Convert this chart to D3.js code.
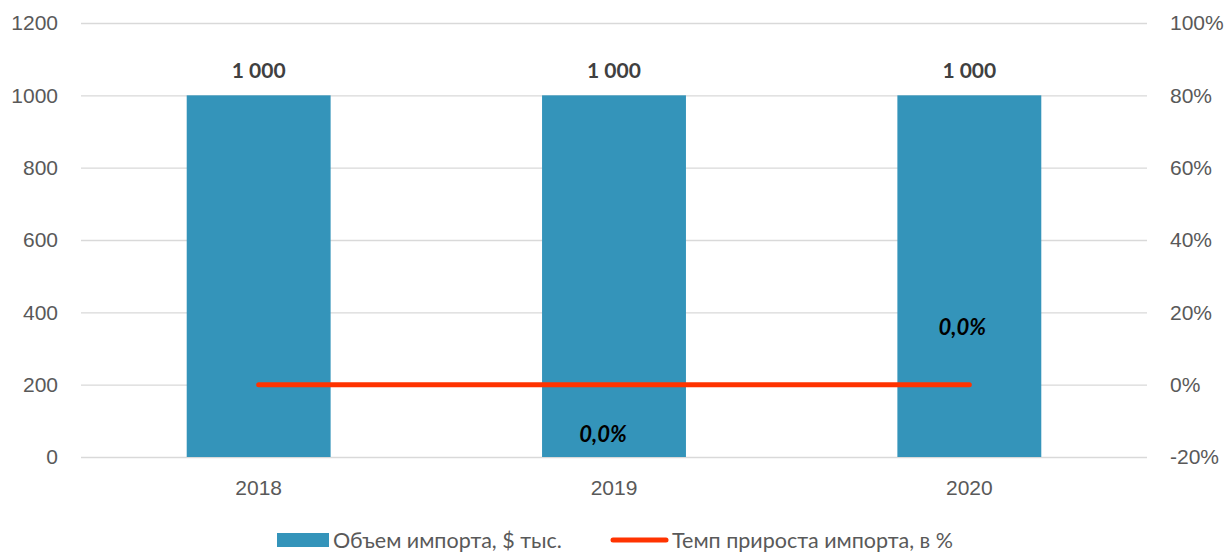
<!DOCTYPE html>
<html>
<head>
<meta charset="utf-8">
<script src="https://cdn.jsdelivr.net/npm/d3@7"></script>
<style>
  body { margin: 0; background: #fff; }
  svg { font-family: Lato, "Open Sans", sans-serif; }
</style>
</head>
<body>
<svg id="chart"></svg>
<script>
// данные
const years = ['2018', '2019', '2020']
const importVolume = [1000, 1000, 1000]
const importGrowth = [0, 0, 0]
const growthLabelPos = [null, 'below', 'above'] // 2018 без подписи

const leftTicks = [0, 200, 400, 600, 800, 1000, 1200]
const rightTicks = [-0.2, 0, 0.2, 0.4, 0.6, 0.8, 1.0]

const seriesNames = ['Объем импорта, $ тыс.', 'Темп прироста импорта, в %']

let width = 1225
let height = 553
let svg = d3.select('#chart').attr('width', width).attr('height', height)

const plotLeft = 81, plotRight = 1147, plotTop = 23, plotBottom = 457
const barColor = '#3494ba'
const lineColor = '#ff3300'
const textColor = '#595959'
const fs = '21px'

let x = d3.scaleBand().domain(years).range([plotLeft, plotRight]).padding(0)
let y = d3.scaleLinear().domain([0, 1200]).range([plotBottom, plotTop])
let y2 = d3.scaleLinear().domain([-0.2, 1.0]).range([plotBottom, plotTop])

// сетка + левая ось
svg.append('g')
    .attr('transform', `translate(${plotLeft},0)`)
    .call(d3.axisLeft(y).tickValues(leftTicks).tickFormat(d3.format('d'))
        .tickSize(-(plotRight - plotLeft)).tickPadding(23))
    .call(g => g.select('.domain').remove())
    .call(g => g.selectAll('line').attr('stroke', '#d9d9d9').attr('stroke-width', 1.3))
    .call(g => g.selectAll('text').attr('fill', textColor).style('font-size', fs))

// правая ось
svg.append('g')
    .attr('transform', `translate(${plotRight},0)`)
    .call(d3.axisRight(y2).tickValues(rightTicks).tickSize(0).tickPadding(23)
        .tickFormat(d => Math.round(d * 100) + '%'))
    .call(g => g.select('.domain').remove())
    .call(g => g.selectAll('text').attr('fill', textColor).style('font-size', fs))

// годы
svg.append('g')
    .attr('transform', `translate(0,${plotBottom})`)
    .call(d3.axisBottom(x).tickSize(0).tickPadding(23))
    .call(g => g.select('.domain').remove())
    .call(g => g.selectAll('text').attr('fill', textColor).style('font-size', fs))

let cx = d => x(d) + x.bandwidth() / 2

// столбцы
let barW = x.bandwidth() * 0.405
svg.append('g').selectAll('rect')
    .data(importVolume)
    .enter().append('rect')
    .attr('x', (d, i) => cx(years[i]) - barW / 2)
    .attr('y', d => y(d))
    .attr('width', barW)
    .attr('height', d => y(0) - y(d))
    .attr('fill', barColor)

svg.append('g').selectAll('text')
    .data(importVolume)
    .enter().append('text')
    .attr('x', (d, i) => cx(years[i]))
    .attr('y', d => y(d) - 17)
    .attr('text-anchor', 'middle')
    .attr('fill', '#404040')
    .style('font-size', fs)
    .style('font-weight', 'bold')
    .text(d => d3.format(',')(d).replace(/,/g, ' '))

// линия
let line = d3.line()
    .x((d, i) => cx(years[i]))
    .y(d => y2(d))

svg.append('path')
    .datum(importGrowth)
    .attr('d', line)
    .attr('fill', 'none')
    .attr('stroke', lineColor)
    .attr('stroke-width', 5)
    .attr('stroke-linecap', 'round')

// подписи темпа прироста
importGrowth.forEach((d, i) => {
    if (!growthLabelPos[i]) return
    let below = growthLabelPos[i] === 'below'
    svg.append('text')
        .attr('x', cx(years[i]) + (below ? -11 : -7))
        .attr('y', y2(d) + (below ? 57 : -50))
        .attr('text-anchor', 'middle')
        .attr('fill', '#000')
        .style('font-size', '22px')
        .style('font-weight', 'bold')
        .style('font-style', 'italic')
        .text(d3.format('.1f')(d * 100).replace('.', ',') + '%')
})

// легенда
let legend = svg.append('g').attr('transform', 'translate(0,540)')
legend.append('rect').attr('x', 277).attr('y', -7).attr('width', 52).attr('height', 14).attr('fill', barColor)
legend.append('text').attr('x', 333).attr('y', 0).attr('dy', '0.35em')
    .attr('fill', textColor).style('font-size', '21.5px').text(seriesNames[0])
legend.append('line').attr('x1', 613).attr('x2', 666).attr('y1', 0).attr('y2', 0)
    .attr('stroke', lineColor).attr('stroke-width', 5).attr('stroke-linecap', 'round')
legend.append('text').attr('x', 672).attr('y', 0).attr('dy', '0.35em')
    .attr('fill', textColor).style('font-size', '21.5px').text(seriesNames[1])
</script>
</body>
</html>
